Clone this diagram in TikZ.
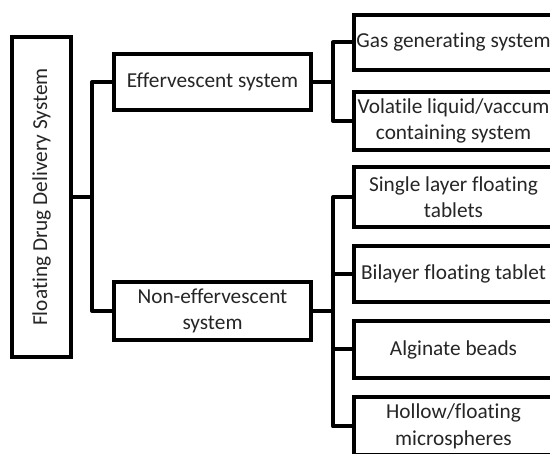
\documentclass[tikz,border=0pt]{standalone}
\usepackage{fontspec}
\setmainfont{Carlito}[Ligatures={NoCommon}]
\begin{document}
\begin{tikzpicture}[x=1pt,y=-1pt,
  box/.style={draw=black,line width=4pt,fill=white,inner sep=0pt,align=center,
    font=\fontsize{21.3}{26.5}\selectfont,text=black!85},
  wire/.style={draw=black,line width=4pt,line join=round}]
\useasboundingbox (0,0) rectangle (550,454);
% nodes
\node[box,minimum width=59pt,minimum height=320pt] (root) at (41.5,197)
  {\rotatebox{90}{Floating Drug Delivery System}};
\node[box,minimum width=197pt,minimum height=56pt] (eff) at (212.5,82) {Effervescent system};
\node[box,minimum width=197pt,minimum height=58pt] (noneff) at (212.5,311) {Non-effervescent\\system};
\node[box,minimum width=199pt,minimum height=55pt] (gas) at (453.5,42.5) {Gas generating system};
\node[box,minimum width=199pt,minimum height=58pt] (vol) at (453.5,121) {Volatile liquid/vaccum\\containing system};
\node[box,minimum width=199pt,minimum height=60pt] (single) at (453.5,197) {Single layer floating\\tablets};
\node[box,minimum width=199pt,minimum height=56pt] (bil) at (453.5,274) {Bilayer floating tablet};
\node[box,minimum width=199pt,minimum height=57pt] (alg) at (453.5,349.5) {Alginate beads};
\node[box,minimum width=199pt,minimum height=58pt] (hol) at (453.5,426.5) {Hollow/floating\\microspheres};
% bus coordinates
\coordinate (b1) at (92,197);
\coordinate (b2) at (333,82);
\coordinate (b3) at (333,311);
% connectors
\draw[wire] (root.east) -- (b1);
\draw[wire] (eff.west) -| (b1) |- (noneff.west);
\draw[wire] (eff.east) -- (b2);
\draw[wire] (gas.west) -| (b2) |- (vol.west);
\draw[wire] (noneff.east) -- (b3);
\draw[wire] (single.west) -| (b3) |- (hol.west);
\draw[wire] (bil.west) -- (bil.west -| b3);
\draw[wire] (alg.west) -- (alg.west -| b3);
\end{tikzpicture}
\end{document}
